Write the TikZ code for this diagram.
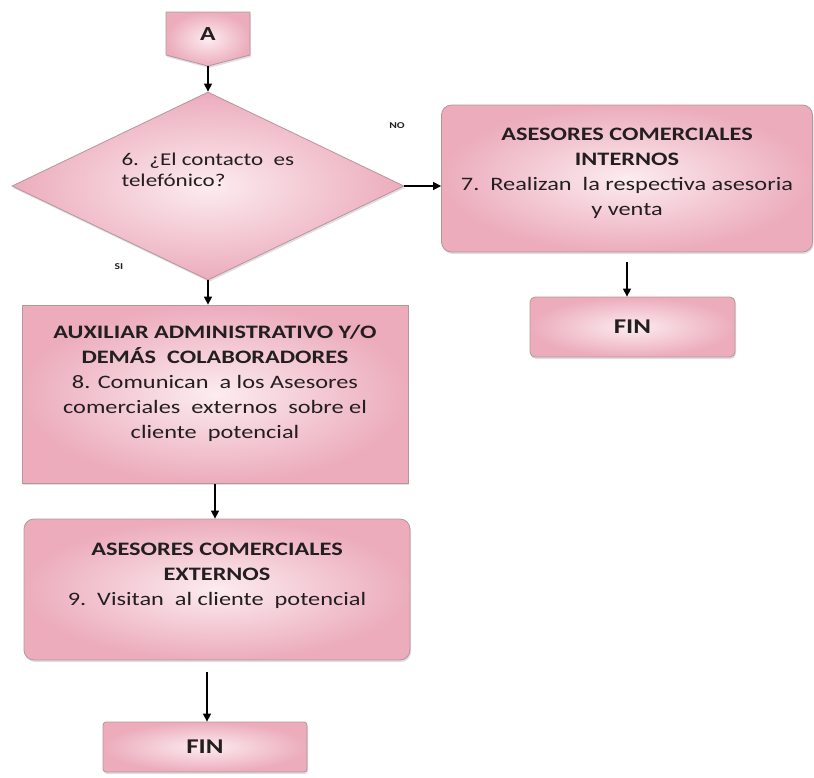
\documentclass[tikz,border=0pt]{standalone}
\usepackage{fontspec}
\setmainfont{Carlito}[FakeStretch=1.28]
\usetikzlibrary{shapes.geometric,arrows.meta,shadows}

\definecolor{pinkedge}{RGB}{236,172,188}
\definecolor{pinkmid}{RGB}{252,236,240}
\definecolor{boxline}{RGB}{180,150,156}
\definecolor{ink}{RGB}{35,30,32}

\begin{document}
\begin{tikzpicture}[x=1pt,y=-1pt,
  pinkfill/.style={draw=boxline, line width=0.8pt, inner color=pinkmid, outer color=pinkedge,
    drop shadow={shadow xshift=1pt, shadow yshift=-2pt, opacity=0.25}},
  procbox/.style={pinkfill, rectangle, inner sep=0pt, align=center, text=ink},
  roundbox/.style={procbox, rounded corners=10pt},
  bodytext/.style={font=\fontsize{19}{25}\selectfont},
  flow/.style={-{Triangle[length=8pt,width=8pt]}, line width=1.4pt, black},
  lbl/.style={font=\bfseries\fontsize{9}{10}\selectfont, text=ink}
]
\useasboundingbox (0,0) rectangle (814,777);

% off-page connector A
\path[pinkfill] (166,12) -- (250,12) -- (250,55) -- (208,66) -- (166,55) -- cycle;
\node[text=ink, font=\bfseries\fontsize{20}{24}\selectfont] (A) at (208,34) {A};
\coordinate (Atip) at (208,66);

% decision 6
\node[diamond, pinkfill, minimum width=392pt, minimum height=188pt, inner sep=0pt] (q6) at (208,186) {};
\node[text=ink, align=left, anchor=west, font=\fontsize{18}{21}\selectfont] (q6t) at (118,170)
  {6.\ \ ¿El contacto\ \ es\\telefónico?};
\node[lbl] (no) at (397,126) {NO};
\node[lbl] (si) at (119,267) {SI};

% step 7
\node[roundbox, bodytext, minimum width=371pt, minimum height=147pt] (b7) at (627,178.5)
  {\textbf{ASESORES COMERCIALES}\\\textbf{INTERNOS}\\7.\ \ Realizan\ \ la respectiva asesoria\\y venta\\[-12pt]\mbox{}};
\node[procbox, rounded corners=5pt, minimum width=205pt, minimum height=60pt,
  font=\bfseries\fontsize{21}{25}\selectfont] (fin1) at (632.5,327) {FIN};

% step 8
\node[procbox, bodytext, minimum width=386pt, minimum height=178pt] (b8) at (215,394)
  {\textbf{AUXILIAR ADMINISTRATIVO Y/O}\\\textbf{DEMÁS\ \ COLABORADORES}\\8. Comunican\ \ a los Asesores\\comerciales\ \ externos\ \ sobre el\\cliente\ \ potencial\\[0pt]\mbox{}};

% step 9
\node[roundbox, bodytext, minimum width=386pt, minimum height=141pt] (b9) at (217,589.5)
  {\textbf{ASESORES COMERCIALES}\\\textbf{EXTERNOS}\\9.\ \ Visitan\ \ al cliente\ \ potencial\\[6pt]\mbox{}};
\node[procbox, rounded corners=3pt, minimum width=204pt, minimum height=50pt,
  font=\bfseries\fontsize{21}{25}\selectfont] (fin2) at (205,747) {FIN};

% connectors
\draw[flow] (Atip) -- (q6.north);
\draw[flow] (q6.east) -- (q6.east -| b7.west);
\draw[flow] (q6.south) -- (q6.south |- b8.north);
\draw[flow, shorten <=10pt] (b7.south) -- (b7.south |- fin1.north);
\draw[flow, shorten <=1pt] (b8.south) -- (b8.south |- b9.north);
\coordinate (b9out) at ([xshift=-10pt]b9.south);
\draw[flow, shorten <=12pt] (b9out) -- (b9out |- fin2.north);
\end{tikzpicture}
\end{document}
